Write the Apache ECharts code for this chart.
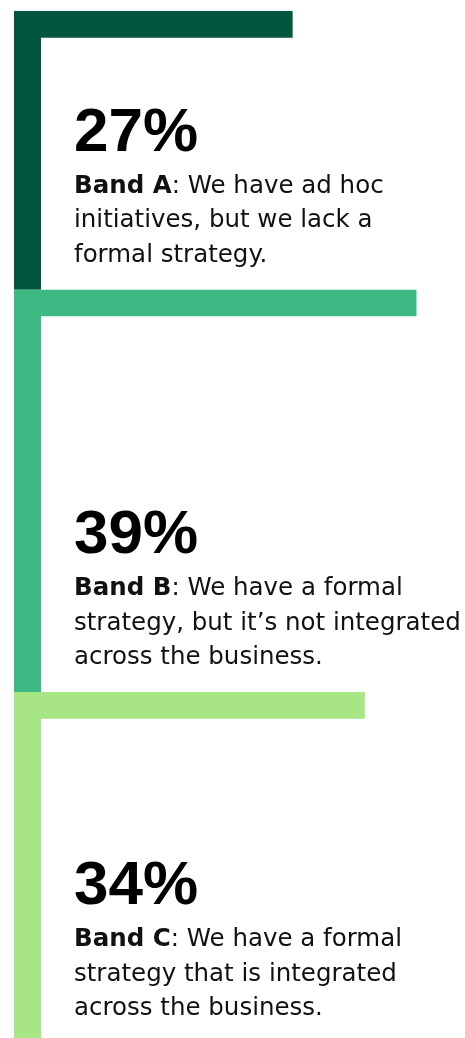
<!DOCTYPE html>
<html>
<head>
<meta charset="utf-8">
<script src="https://cdn.jsdelivr.net/npm/echarts@6/dist/echarts.min.js"></script>
<style>
html,body{margin:0;padding:0;background:#fff;}
#chart{width:465px;height:1038px;}
</style>
</head>
<body>
<div id="chart"></div>
<script>
// ---- data ----
const bandNames = ['Band A', 'Band B', 'Band C'];
const values = [27, 39, 34];
const firstLines = [': We have ad hoc', ': We have a formal', ': We have a formal'];
const secondLines = ['initiatives, but we lack a', 'strategy, but it\u2019s not integrated', 'strategy that is integrated'];
const thirdLines = ['formal strategy.', 'across the business.', 'across the business.'];

const colors = ['#02553f', '#3dba83', '#a8e585'];

const starts = [];
values.reduce((acc, v) => { starts.push(acc); return acc + v; }, 0);

const chart = echarts.init(document.getElementById('chart'), null, {renderer: 'canvas'});

const PX_PER_PCT = 10.32;
const GRID_LEFT = 14, GRID_TOP = 11, W = 465, H = 1038;

const PCT_FONT = '"Liberation Sans", Arial, sans-serif';
const BODY_FONT = '"DejaVu Sans", sans-serif';
const PCT_SIZE = 62;
const BODY_SIZE = 24.5;

function renderItem(params, api) {
  const i = params.dataIndex;
  const start = api.value(0);
  const val = api.value(1);
  const p0 = api.coord([0, start]);
  const p1 = api.coord([val, start]);
  const p2 = api.coord([0, start + val]);
  const color = colors[i];
  const bottom = p2[1];
  const pctBase = bottom - 137;
  const textX = 74;
  const children = [
    {type: 'rect', shape: {x: p0[0], y: p0[1], width: p1[0] - p0[0], height: 26.7}, style: {fill: color}},
    {type: 'rect', shape: {x: p0[0], y: p0[1], width: 27, height: bottom - p0[1]}, style: {fill: color}},
    {type: 'text', x: textX, y: pctBase - 0.31 * PCT_SIZE,
      style: {text: val + '%', font: '900 ' + PCT_SIZE + 'px ' + PCT_FONT, fill: '#000', align: 'left', verticalAlign: 'middle'}},
    {type: 'text', x: textX, y: pctBase + 41 - 0.3 * BODY_SIZE,
      style: {text: '{b|' + bandNames[i] + '}{r|' + firstLines[i] + '}', align: 'left', verticalAlign: 'middle',
        rich: {b: {fontFamily: BODY_FONT, fontWeight: 'bold', fontSize: BODY_SIZE, fill: '#111'},
               r: {fontFamily: BODY_FONT, fontWeight: 'normal', fontSize: BODY_SIZE, fill: '#111'}}}},
    {type: 'text', x: textX, y: pctBase + 75.5 - 0.3 * BODY_SIZE,
      style: {text: secondLines[i], font: 'normal ' + BODY_SIZE + 'px ' + BODY_FONT, fill: '#111', align: 'left', verticalAlign: 'middle'}},
    {type: 'text', x: textX, y: pctBase + 110 - 0.3 * BODY_SIZE,
      style: {text: thirdLines[i], font: 'normal ' + BODY_SIZE + 'px ' + BODY_FONT, fill: '#111', align: 'left', verticalAlign: 'middle'}}
  ];
  return {type: 'group', children: children};
}

chart.setOption({
  animation: false,
  grid: {left: GRID_LEFT, top: GRID_TOP, right: 0, bottom: 0, containLabel: false},
  xAxis: {type: 'value', min: 0, max: (W - GRID_LEFT) / PX_PER_PCT, show: false},
  yAxis: {type: 'value', min: 0, max: (H - GRID_TOP) / PX_PER_PCT, inverse: true, show: false},
  series: [{
    type: 'custom',
    renderItem: renderItem,
    clip: false,
    data: values.map((v, i) => [starts[i], v])
  }]
});
</script>
</body>
</html>
